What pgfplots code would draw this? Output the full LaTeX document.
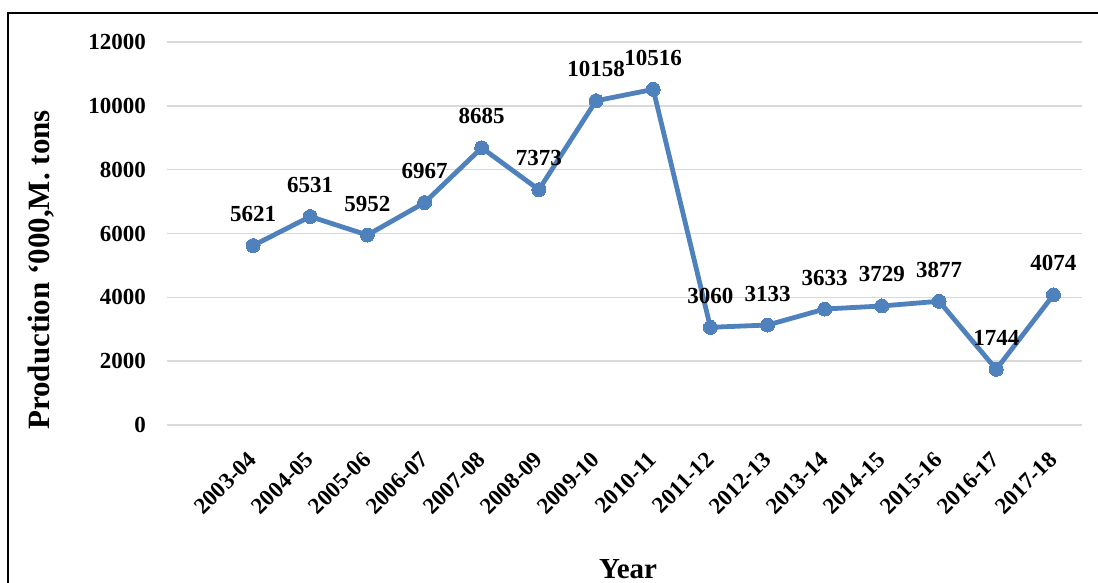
\documentclass[border=0pt]{standalone}
\usepackage{fontspec}
\setmainfont{Liberation Serif}
\usepackage{pgfplots}
\pgfplotsset{compat=1.18}
\definecolor{lineblue}{HTML}{4F81BD}
\definecolor{gridgray}{HTML}{D9D9D9}
\begin{document}
\begin{tikzpicture}[x=1pt,y=1pt]
\clip (-167,-158) rectangle (931,425);
\fill[white] (-167,-158) rectangle (931,425);
\draw[line width=1.5pt] (-159,412) rectangle (945,-175);
\begin{axis}[
  at={(0pt,0pt)}, anchor=south west,
  scale only axis, width=915pt, height=383pt,
  xmin=-1.505, xmax=14.5, ymin=0, ymax=12000,
  clip=false,
  axis line style={draw=none},
  major tick length=0pt,
  tick style={draw=none},
  ytick={0,2000,4000,6000,8000,10000,12000},
  xtick={0,...,14},
  xticklabels={2003-04,2004-05,2005-06,2006-07,2007-08,2008-09,2009-10,2010-11,2011-12,2012-13,2013-14,2014-15,2015-16,2016-17,2017-18},
  ymajorgrids, grid style={gridgray, line width=1.5pt},
  scaled y ticks=false,
  /pgf/number format/.cd, 1000 sep={}, assume math mode=true, /pgfplots/.cd,
  ticklabel style={font=\fontsize{23}{27}\selectfont\bfseries},
  yticklabel style={anchor=east, inner sep=0pt, xshift=-21pt},
  xticklabel style={inner sep=0pt, yshift=-25pt, xshift=-6pt, rotate=45, anchor=north east},
  nodes near coords,
  nodes near coords style={font=\fontsize{23}{27}\selectfont\bfseries, anchor=base, inner sep=0pt, yshift=24pt, text=black},
]
\addplot[color=lineblue, line width=4.8pt, mark=*, mark size=7pt, mark options={fill=lineblue, draw=lineblue, line width=0pt}]
coordinates {
(0,5621) (1,6531) (2,5952) (3,6967) (4,8685) (5,7373) (6,10158) (7,10516)
(8,3060) (9,3133) (10,3633) (11,3729) (12,3877) (13,1744) (14,4074)
};
\end{axis}
\node[rotate=90, font=\fontsize{31}{37}\selectfont\bfseries] at (-126,155) {Production ‘000,M. tons};
\node[font=\fontsize{29}{34}\selectfont\bfseries, anchor=base] at (461,-154) {Year};
\end{tikzpicture}
\end{document}
